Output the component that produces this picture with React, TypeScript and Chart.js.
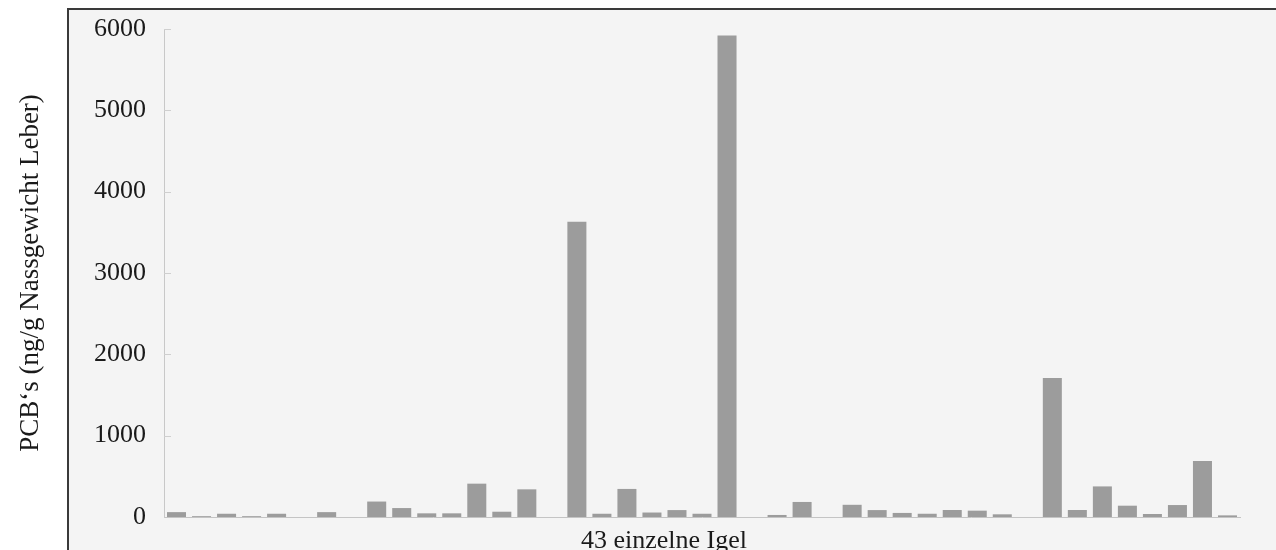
import React, { useEffect, useRef } from "react";
import { Chart, registerables } from "chart.js";

Chart.register(...registerables);

const categories = [
  "1", "2", "3", "4", "5", "6", "7", "8", "9", "10",
  "11", "12", "13", "14", "15", "16", "17", "18", "19", "20",
  "21", "22", "23", "24", "25", "26", "27", "28", "29", "30",
  "31", "32", "33", "34", "35", "36", "37", "38", "39", "40",
  "41", "42", "43",
];

const pcbValues = [
  60, 10, 40, 10, 40, 0, 60, 0, 190, 110,
  45, 45, 410, 65, 340, 0, 3630, 40, 345, 55,
  85, 40, 5920, 0, 25, 185, 0, 150, 85, 50,
  40, 86, 78, 33, 0, 1710, 86, 376, 139, 37,
  147, 687, 20,
];

const yTickValues = [0, 1000, 2000, 3000, 4000, 5000, 6000];
const yTickLabels = ["0", "1000", "2000", "3000", "4000", "5000", "6000"];

const yTitle = "PCB‘s (ng/g Nassgewicht Leber)";
const xTitle = "43 einzelne Igel";

const SERIF = "'Liberation Serif', 'DejaVu Serif', serif";

const innerTicks = {
  id: "innerTicks",
  afterDraw(chart: any) {
    const y = chart.scales.y;
    const ctx = chart.ctx;
    ctx.save();
    ctx.strokeStyle = "#cfcfcf";
    ctx.lineWidth = 1;
    yTickValues.forEach((v) => {
      if (v === 0) return;
      const py = Math.round(y.getPixelForValue(v)) + 0.5;
      ctx.beginPath();
      ctx.moveTo(chart.chartArea.left, py);
      ctx.lineTo(chart.chartArea.left + 7, py);
      ctx.stroke();
    });
    ctx.restore();
  },
};

export default function App() {
  const ref = useRef<HTMLCanvasElement | null>(null);

  useEffect(() => {
    if (!ref.current) return;
    const chart = new Chart(ref.current, {
      type: "bar",
      data: {
        labels: categories,
        datasets: [
          {
            data: pcbValues,
            backgroundColor: "#9c9c9c",
            borderWidth: 0,
            barPercentage: 0.76,
            categoryPercentage: 1,
          },
        ],
      },
      options: {
        animation: false,
        responsive: false,
        maintainAspectRatio: false,
        layout: { padding: { top: 29, right: 36, left: 0, bottom: 0 } },
        plugins: { legend: { display: false }, tooltip: { enabled: false } },
        scales: {
          x: {
            offset: true,
            grid: { display: false, drawTicks: false },
            border: { display: true, color: "#c4c4c4", width: 1 },
            ticks: { display: false },
            afterFit(scale: any) {
              scale.height = 33;
              scale.paddingLeft = 0;
              scale.paddingRight = 0;
            },
          },
          y: {
            min: 0,
            max: 6000,
            afterBuildTicks(scale: any) {
              scale.ticks = yTickValues.map((v) => ({ value: v }));
            },
            grid: { display: false, drawTicks: false },
            border: { display: true, color: "#c8c8c8", width: 1 },
            ticks: {
              padding: 18,
              color: "#1a1a1a",
              font: { family: SERIF, size: 26 },
              callback: (_v: any, i: number) => yTickLabels[i],
            },
            title: {
              display: true,
              text: yTitle,
              color: "#1a1a1a",
              font: { family: SERIF, size: 27 },
              padding: { top: 15, bottom: 0 },
            },
            afterFit(scale: any) {
              scale.width = 164;
              scale.paddingTop = 0;
              scale.paddingBottom = 0;
            },
          },
        },
      },
      plugins: [innerTicks],
    });
    return () => chart.destroy();
  }, []);

  return (
    <div
      style={{
        position: "fixed",
        left: 0,
        top: 0,
        width: 1276,
        height: 550,
        background: "#ffffff",
        overflow: "hidden",
      }}
    >
      <div
        style={{
          position: "absolute",
          left: 67,
          top: 8,
          width: 1300,
          height: 600,
          background: "#f4f4f4",
          borderLeft: "2px solid #3a3a3a",
          borderTop: "2px solid #3a3a3a",
        }}
      />
      <canvas
        ref={ref}
        width={1276}
        height={550}
        style={{ position: "absolute", left: 0, top: 0, width: 1276, height: 550 }}
      />
      <div
        style={{
          position: "absolute",
          left: 464,
          width: 400,
          top: 527,
          textAlign: "center",
          fontFamily: SERIF,
          fontSize: 26,
          lineHeight: "26px",
          color: "#1a1a1a",
        }}
      >
        {xTitle}
      </div>
    </div>
  );
}
